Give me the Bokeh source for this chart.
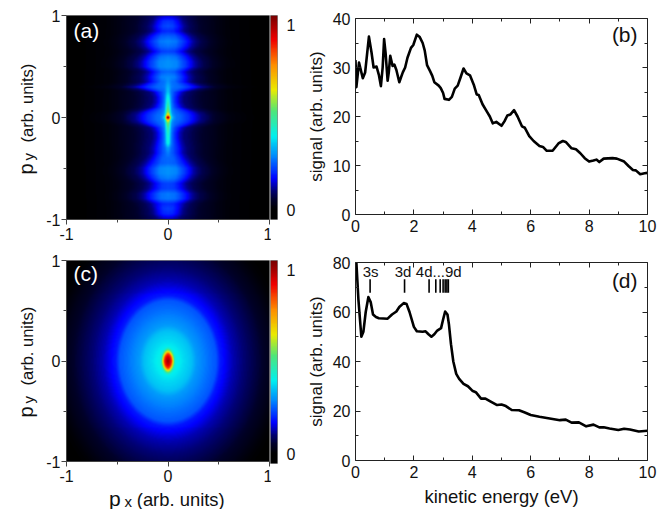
import numpy as np
from bokeh.embed import file_html
from bokeh.resources import INLINE
from bokeh.plotting import figure
from bokeh.layouts import row, column
from bokeh.models import (FixedTicker, Label, LinearAxis, LinearColorMapper, Range1d)
from bokeh.core.properties import value

# ---- data ----
b_energy = [0,0.03,0.12,0.25,0.33,0.46,0.55,0.62,0.72,0.8,0.87,0.93,0.98,1.03,1.1,1.14,1.19,1.27,1.33,1.4,1.5,1.56,1.62,1.7,1.78,1.9,1.98,2.1,2.2,2.3,2.37,2.45,2.55,2.63,2.7,2.85,2.92,3.0,3.05,3.2,3.3,3.4,3.5,3.6,3.7,3.8,3.92,4.05,4.15,4.22,4.35,4.5,4.6,4.7,4.82,5.0,5.1,5.2,5.3,5.43,5.55,5.7,5.8,5.95,6.1,6.3,6.42,6.55,6.75,6.95,7.1,7.2,7.4,7.55,7.7,7.85,8.0,8.15,8.25,8.35,8.5,8.8,8.95,9.2,9.35,9.5,9.6,9.75,9.9,10]
b_signal = [31.5,26,31,27.8,29,36.3,33,30,30.2,28.5,26.2,30,35.8,33,27.3,29,32.4,30.3,30.6,29.5,27,28,29,30,32,34,34.6,36.7,36.2,35,33.5,30.5,29.3,28.3,27,26.3,25.8,24.8,23.6,23.4,24,25.7,26.3,28,29.8,28.8,28.4,26.5,24.5,24.4,22.5,21,20,18.6,18.9,18.1,19,20.2,20.4,21.3,20,18,17.7,16,15,14,13.8,13,13,14.5,15,14.8,13.5,13.3,12.5,11.5,10.8,11,11.2,10.7,11.4,11.5,11.4,10.8,9.9,9.1,9,8.2,8.4,8.5]
d_energy = [0.03,0.1,0.2,0.27,0.35,0.44,0.52,0.6,0.7,0.8,1.1,1.25,1.4,1.5,1.65,1.75,1.85,2.0,2.1,2.3,2.4,2.5,2.6,2.7,2.8,2.93,3.0,3.07,3.15,3.2,3.27,3.35,3.45,3.55,3.7,3.85,4.0,4.12,4.3,4.45,4.6,4.85,5.0,5.15,5.35,5.6,5.8,6,6.3,6.6,7,7.2,7.4,7.65,7.9,8.15,8.35,8.5,8.7,9.0,9.2,9.4,9.7,10]
d_signal = [80,65,50,52,60,66,64,59,58,57.5,57.3,59,60.2,62,63.6,63.2,60,54,52.2,52,52.2,51,50,51,52.5,53.5,57,60.2,59,55,47,40,35,33,31,30,28.2,27.6,25,25,24,22.4,22.6,22,20.4,20.3,19.4,18.4,17.7,17.1,16.3,16.5,15.3,15.4,13.8,14.5,13.4,13.4,12.9,12.3,12.8,12.5,11.7,12]
state_energies = [0.5,1.68,2.52,2.75,2.9,3.0,3.07,3.13,3.18]
state_labels = ["3s","3d","4d...9d"]
state_label_x = [0.52,1.63,2.85]

# heat map (a): profiles along py
a_py = [1,.95,.9,.85,.8,.75,.7,.65,.6,.55,.5,.45,.4,.35,.3,.25,.2,.15,.1,.05,.02,.01,0,-.01,-.02,-.05,-.1,-.15,-.2,-.25,-.3,-.35,-.4,-.45,-.5,-.55,-.6,-.65,-.7,-.75,-.8,-.85,-.9,-.95,-1]
a_column = [.06,.13,.15,.12,.17,.2,.18,.14,.19,.21,.21,.17,.2,.18,.18,.16,.16,.16,.16,.17,.18,.18,.18,.18,.18,.17,.16,.16,.16,.16,.16,.16,.17,.17,.21,.21,.19,.14,.14,.19,.19,.12,.14,.12,.05]
a_width = [.1,.1,.11,.11,.15,.17,.16,.13,.16,.18,.18,.13,.14,.14,.24,.1,.08,.08,.1,.2,.22,.22,.22,.22,.22,.2,.1,.08,.08,.09,.1,.1,.12,.15,.17,.17,.15,.12,.13,.16,.16,.12,.1,.1,.09]
a_spike = [0,0,0,0,0,0,0,0,0,0,0,0,0,.03,.06,.1,.16,.2,.26,.33,.48,.68,.83,.68,.48,.31,.24,.2,.18,.17,.06,.03,0,0,0,0,0,0,0,0,0,0,0,0,0]
a_fall_u = [0,.5,1,1.5,2,3,4]
a_fall_v = [1,.95,.65,.3,.12,.03,0]
a_halo_x = [0,.1,.2,.3,.4,.5,.6,.8,1]
a_halo_v = [.1,.095,.085,.065,.05,.03,.015,.005,0]
# heat map (c): level against scaled distance from the centre
c_r = [0,.12,.2,.3,.36,.5,.6,.65,.8,1,1.2,1.4,1.5]
c_v = [.42,.41,.38,.35,.31,.27,.245,.19,.135,.09,.05,.01,0]
c_core_r = [0,.05,.08,.1,.13,.16]
c_core_v = [1.03,.95,.85,.65,.45,.38]

# colour scale
cmap_pos = [0,.05,.1,.16,.27,.38,.51,.62,.75,.88,1]
cmap_col = [(0,0,0),(0,0,40),(0,0,120),(0,0,255),(0,130,255),(0,240,240),(80,230,120),(235,235,0),(255,140,0),(240,0,0),(120,0,0)]

# ---- build ----
pos = np.linspace(0, 1, 256)
palette = ["#%02x%02x%02x" % tuple(int(np.interp(t, cmap_pos, [c[i] for c in cmap_col])) for i in range(3)) for t in pos]
mapper = LinearColorMapper(palette=palette, low=0, high=1.054)

n = 204
xs = np.linspace(-1, 1, n)
X, Y = np.meshgrid(xs, xs)
pya = np.array(a_py[::-1])
col = np.interp(Y, pya, a_column[::-1])
wid = np.interp(Y, pya, a_width[::-1])
spk = np.interp(Y, pya, a_spike[::-1])
img_a = (col * np.interp(np.abs(X) / wid, a_fall_u, a_fall_v)
         + spk * np.interp(np.abs(X) / 0.022, a_fall_u, a_fall_v)
         + np.interp(np.abs(X), a_halo_x, a_halo_v) * (1 - 0.15 * np.abs(Y)))
R = np.sqrt((X / 0.8) ** 2 + Y ** 2)
R2 = np.sqrt((X / 0.55) ** 2 + Y ** 2)
img_c = np.maximum(np.interp(R, c_r, c_v), np.interp(R2, c_core_r, c_core_v, right=0))

FONT = "Liberation Sans"
TICK = "16px"
TXT = "#111111"


def bare(w, h):
    p = figure(output_backend="svg", toolbar_location=None, width=w, height=h,
               x_range=Range1d(0, w), y_range=Range1d(0, h), x_axis_type=None, y_axis_type=None,
               min_border_left=0, min_border_right=0, min_border_top=0, min_border_bottom=0)
    p.grid.visible = False
    p.outline_line_color = None
    return p


def words(p, x, y, t, angle=0.0, size="18px"):
    p.text([x], [y], text=[t], angle=angle, text_font=value(FONT), text_font_size=size,
           text_color=TXT, text_align="left", text_baseline="middle")


def py_strip(h, y0):
    p = bare(38, h)
    words(p, 25, y0, "p", np.pi / 2, "20px")
    words(p, 28, y0 + 14, "y", np.pi / 2, "15px")
    words(p, 26, y0 + 32, "(arb. units)", np.pi / 2, "16.5px")
    return p


def heat(img, letter, top, fh, bottom, label_y):
    p = figure(output_backend="svg", toolbar_location=None, width=28 + 203 + 3, height=top + fh + bottom,
               x_range=Range1d(-1, 1), y_range=Range1d(-1, 1),
               min_border_left=28, min_border_right=3, min_border_top=top, min_border_bottom=bottom)
    p.grid.visible = False
    p.image(image=[img], x=-1, y=-1, dw=2, dh=2, color_mapper=mapper)
    for ax in (p.xaxis[0], p.yaxis[0]):
        ax.ticker = FixedTicker(ticks=[-1, 0, 1], minor_ticks=[-.5, .5])
        ax.major_label_overrides = {-1: "-1", 0: "0", 1: "1"}
        ax.major_label_text_font = FONT
        ax.major_label_text_font_size = TICK
        ax.major_label_text_color = TXT
        ax.major_tick_in = 0
        ax.major_tick_out = 5
        ax.minor_tick_in = 0
        ax.minor_tick_out = 3
        ax.major_label_standoff = 1
        ax.axis_line_color = "#444444"
        ax.major_tick_line_color = "#444444"
        ax.minor_tick_line_color = "#444444"
    p.xaxis[0].major_label_standoff = 3
    p.yaxis[0].major_label_orientation = "horizontal"
    p.outline_line_color = "#888888"
    p.add_layout(Label(x=-0.93, y=label_y, text=letter, text_color="white", text_font=FONT, text_font_size="21px"))
    return p


def colorbar(top, fh, bottom, lo, hi):
    p = figure(output_backend="svg", toolbar_location=None, width=30, height=top + fh + bottom,
               x_range=Range1d(0, 1), y_range=Range1d(lo, hi), margin=(0, 0, 0, -2),
               min_border_left=0, min_border_right=15, min_border_top=top, min_border_bottom=bottom,
               y_axis_location="right")
    p.grid.visible = False
    p.xaxis.visible = False
    gradient = np.linspace(lo, hi, 256).reshape(-1, 1)
    p.image(image=[gradient], x=0, y=lo, dw=1, dh=hi - lo, color_mapper=mapper)
    ax = p.yaxis[0]
    ax.ticker = FixedTicker(ticks=[0, 1])
    ax.major_label_overrides = {0: "0", 1: "1"}
    ax.major_label_text_font = FONT
    ax.major_label_text_font_size = TICK
    ax.major_label_text_color = TXT
    ax.major_tick_line_color = None
    ax.minor_tick_line_color = None
    ax.axis_line_color = None
    ax.major_label_standoff = 3
    ax.major_label_orientation = "horizontal"
    p.outline_line_color = "#888888"
    return p


def curve(xv, yv, ymax, major, minor, letter, label_y, top, fh, bottom, xlabel=None):
    p = figure(output_backend="svg", toolbar_location=None, width=55 + 292 + 10, height=top + fh + bottom,
               x_range=Range1d(0, 10), y_range=Range1d(0, ymax),
               min_border_left=55, min_border_right=10, min_border_top=top, min_border_bottom=bottom)
    p.grid.visible = False
    p.line(xv, yv, line_color="black", line_width=2.6, line_join="round")
    p.add_layout(LinearAxis(), "right")
    p.add_layout(LinearAxis(), "above")
    for ax in p.xaxis:
        ax.ticker = FixedTicker(ticks=list(range(0, 11, 2)), minor_ticks=list(range(1, 10, 2)))
    for ax in p.yaxis:
        ax.ticker = FixedTicker(ticks=major, minor_ticks=minor)
    for ax in p.axis:
        ax.major_tick_in = 5
        ax.major_tick_out = 0
        ax.minor_tick_in = 3
        ax.minor_tick_out = 0
        ax.major_label_text_font = FONT
        ax.major_label_text_font_size = TICK
        ax.major_label_text_color = TXT
        ax.major_label_standoff = 5
        ax.axis_line_color = "#222222"
        ax.major_tick_line_color = "#222222"
        ax.minor_tick_line_color = "#222222"
    for ax in (p.right[0], p.above[0]):
        ax.major_label_text_font_size = "0px"
        ax.major_label_text_color = None
        ax.major_label_standoff = 0
    p.yaxis[0].major_label_orientation = "horizontal"
    p.yaxis[0].axis_label = "signal (arb. units)"
    p.yaxis[0].axis_label_text_font = FONT
    p.yaxis[0].axis_label_text_font_size = "17px"
    p.yaxis[0].axis_label_text_font_style = "normal"
    p.yaxis[0].axis_label_text_color = TXT
    p.yaxis[0].axis_label_standoff = 4
    if xlabel:
        ax = p.below[0]
        ax.axis_label = xlabel
        ax.axis_label_text_font = FONT
        ax.axis_label_text_font_size = "18.5px"
        ax.axis_label_text_font_style = "normal"
        ax.axis_label_text_color = TXT
        ax.axis_label_standoff = 5
    p.add_layout(Label(x=8.78, y=label_y, text=letter, text_color=TXT, text_font=FONT, text_font_size="21px"))
    p.outline_line_color = None
    return p


pa = heat(img_a, "(a)", 15, 204, 30, 0.74)
pc = heat(img_c, "(c)", 11, 203, 21, 0.76)
px = bare(234, 25)
words(px, 49, 11, "p", 0.0, "21px")
words(px, 67, 8, "x", 0.0, "15px")
words(px, 81, 10.5, "(arb. units)", 0.0, "18.4px")

sa = py_strip(249, 75)
sc = py_strip(260, 92)

cb1 = colorbar(15, 204, 30, -0.049, 1.054)
cb2 = colorbar(11, 203, 21, -0.049, 1.054)

pb = curve(b_energy, b_signal, 40, [0, 10, 20, 30, 40], [5, 15, 25, 35], "(b)", 34.4, 18, 196, 29)
pd = curve(d_energy, d_signal, 80, [0, 20, 40, 60, 80], [10, 30, 50, 70], "(d)", 68, 19, 198, 49, "kinetic energy (eV)")
pd.segment(state_energies, [67.8] * len(state_energies), state_energies, [73.2] * len(state_energies), line_color="black", line_width=1.6)
pd.text(state_label_x, [76.5] * 3, text=state_labels, text_font=value(FONT), text_font_size="15px",
        text_color=TXT, text_align="center", text_baseline="middle")

layout = row(column(sa, sc, spacing=0), column(pa, pc, px, spacing=0), column(cb1, cb2, spacing=0), column(pb, pd, spacing=0), spacing=0)
open("out.html", "w").write(file_html(layout, INLINE))
